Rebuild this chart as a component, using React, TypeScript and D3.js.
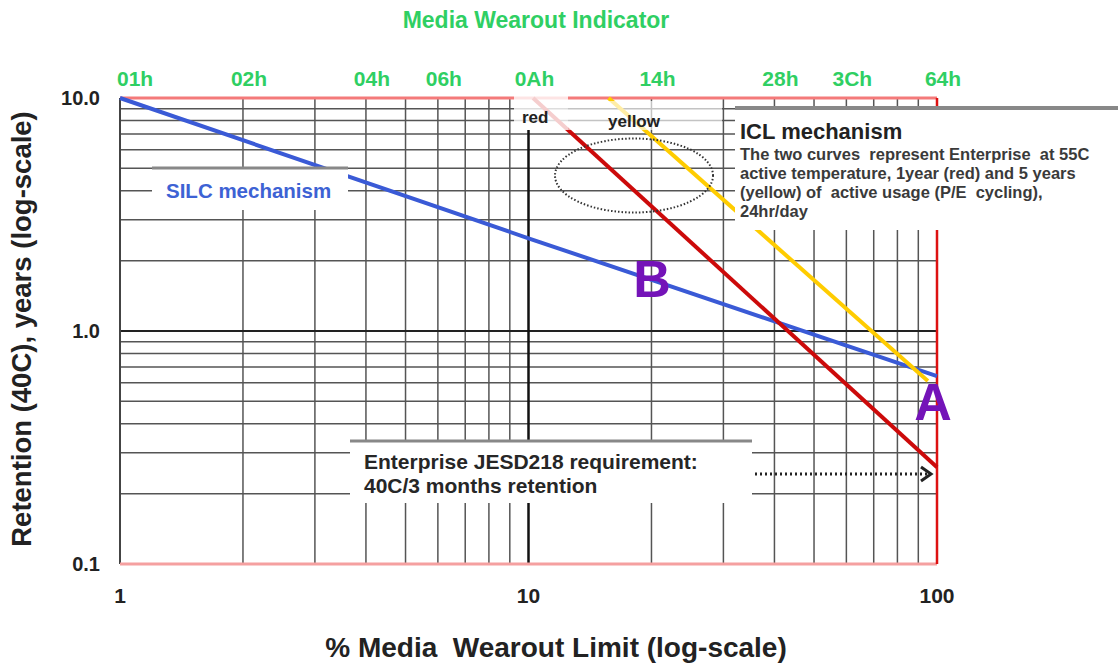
import React from 'react';
import * as d3 from 'd3';

const W = 1118;
const H = 664;
const FONT = "'Liberation Sans', Arial, sans-serif";

const xDomain = [1, 100];
const yDomain = [0.1, 10];

const topTickValues = [1, 2, 4, 6, 10, 20, 40, 60, 100];
const topTickLabels = ['01h', '02h', '04h', '06h', '0Ah', '14h', '28h', '3Ch', '64h'];
const bottomTickValues = [1, 10, 100];
const bottomTickLabels = ['1', '10', '100'];
const leftTickValues = [10, 1, 0.1];
const leftTickLabels = ['10.0', '1.0', '0.1'];

// SILC mechanism (blue)
const silcX = [1, 10, 100];
const silcY = [10, 2.5, 0.64];
// ICL 1 year (red)
const redX = [10.26, 100];
const redY = [10, 0.26];
// ICL 5 years (yellow)
const yellowX = [15.7, 95];
const yellowY = [10, 0.61];

const iclLines = [
  'The two curves  represent Enterprise  at 55C',
  'active temperature, 1year (red) and 5 years',
  '(yellow) of  active usage (P/E  cycling),',
  '24hr/day',
];
const jesdLines = ['Enterprise JESD218 requirement:', '40C/3 months retention'];

export default function App() {
  const x = d3.scaleLog().domain(xDomain).range([120, 937]);
  const y = d3.scaleLog().domain(yDomain).range([564, 98]);
  const [x0, x1] = x.range();
  const [y0, y1] = y.range();

  const xGrid = x.ticks().filter((v) => v !== 1 && v !== 100 && v !== 10);
  const yGrid = y.ticks().filter((v) => v !== 0.1 && v !== 10 && Math.abs(v - 1) > 1e-9);

  const line = d3
    .line<[number, number]>()
    .x((d) => x(d[0]))
    .y((d) => y(d[1]));
  const pts = (xs: number[], ys: number[]) => xs.map((v, i) => [v, ys[i]] as [number, number]);

  const gridColor = '#555';
  const green = '#2fcf63';
  const purple = '#7413b8';

  return (
    <svg
      width={W}
      height={H}
      style={{ position: 'absolute', left: 0, top: 0, background: '#fff' }}
      fontFamily={FONT}
    >
      <rect x={0} y={0} width={W} height={H} fill="#fff" />
      {/* title */}
      <text x={536} y={28} textAnchor="middle" fontSize={23} fontWeight="bold" fill={green}>
        Media Wearout Indicator
      </text>
      {/* top ticks */}
      {topTickValues.map((v, i) => (
        <text
          key={'tt' + i}
          x={i === 0 ? x(v) - 3 : x(v) + 6}
          y={86}
          textAnchor={i === 0 ? 'start' : 'middle'}
          fontSize={21}
          fontWeight="bold"
          fill={green}
        >
          {topTickLabels[i]}
        </text>
      ))}

      {/* grid */}
      {xGrid.map((v) => (
        <line key={'xg' + v} x1={x(v)} x2={x(v)} y1={y1} y2={y0} stroke={gridColor} strokeWidth={1.5} />
      ))}
      {yGrid.map((v) => (
        <line key={'yg' + v} x1={x0} x2={x1} y1={y(v)} y2={y(v)} stroke={gridColor} strokeWidth={1.5} />
      ))}
      {/* major lines */}
      <line x1={x0} x2={x1} y1={y(1)} y2={y(1)} stroke="#222" strokeWidth={2} />
      <line x1={x(10)} x2={x(10)} y1={130} y2={y0} stroke="#111" strokeWidth={2.5} />
      {/* borders */}
      <line x1={x0} x2={x0} y1={y1} y2={y0} stroke="#444" strokeWidth={2} />
      <line x1={x0} x2={x1} y1={y0} y2={y0} stroke="#f5a0a0" strokeWidth={3} />
      <line x1={x0} x2={x1} y1={y1} y2={y1} stroke="#f47a7a" strokeWidth={3} />
      <line x1={x1} x2={x1} y1={y1} y2={y0} stroke="#dd1111" strokeWidth={2.5} />

      {/* curves */}
      <path d={line(pts(silcX, silcY)) || ''} fill="none" stroke="#3a5ad6" strokeWidth={4} />
      <path d={line(pts(redX, redY)) || ''} fill="none" stroke="#cc0a0a" strokeWidth={4} />
      <path d={line(pts(yellowX, yellowY)) || ''} fill="none" stroke="#ffcc00" strokeWidth={4} />

      {/* label overlays */}
      <rect x={514} y={95} width={54} height={35} fill="#fff" opacity={0.8} />
      <rect x={568} y={101} width={154} height={29} fill="#fff" opacity={0.65} />
      <text x={522} y={123} fontSize={17} fontWeight="bold" fill="#222">
        red
      </text>
      <text x={608} y={127} fontSize={17} fontWeight="bold" fill="#222">
        yellow
      </text>

      {/* dotted ellipse */}
      <ellipse cx={634} cy={175.5} rx={79} ry={37} fill="none" stroke="#333" strokeWidth={2} strokeDasharray="1.5 2" />

      {/* SILC box */}
      <rect x={152} y={168} width={196} height={42} fill="#fff" />
      <line x1={152} x2={348} y1={168} y2={168} stroke="#888" strokeWidth={3} />
      <text x={166} y={198} fontSize={20.5} fontWeight="bold" fill="#3d62d4">
        SILC mechanism
      </text>

      {/* ICL box */}
      <rect x={735} y={108} width={W - 735} height={122} fill="#fff" />
      <line x1={735} x2={W} y1={108} y2={108} stroke="#888" strokeWidth={4} />
      <text x={740} y={139} fontSize={22} fontWeight="bold" fill="#222">
        ICL mechanism
      </text>
      {iclLines.map((t, i) => (
        <text key={'icl' + i} x={740} y={160 + i * 19} fontSize={16.5} fontWeight="bold" fill="#3a3a3a" style={{ whiteSpace: 'pre' }}>
          {t}
        </text>
      ))}

      {/* JESD box */}
      <rect x={350} y={441} width={402} height={62} fill="#fff" />
      <line x1={350} x2={752} y1={441} y2={441} stroke="#888" strokeWidth={3} />
      {jesdLines.map((t, i) => (
        <text key={'j' + i} x={364} y={469 + i * 24} fontSize={21} fontWeight="bold" fill="#262626">
          {t}
        </text>
      ))}
      {/* dotted arrow */}
      <line x1={755} x2={928} y1={474} y2={474} stroke="#222" strokeWidth={3} strokeDasharray="2 3" />
      <polyline points="921,467 931,474 921,481" fill="none" stroke="#222" strokeWidth={3} />

      {/* A / B */}
      <text x={652} y={297} textAnchor="middle" fontSize={52} fontWeight="bold" fill={purple}>
        B
      </text>
      <text x={933} y={420} textAnchor="middle" fontSize={52} fontWeight="bold" fill={purple}>
        A
      </text>

      {/* left ticks */}
      {leftTickValues.map((v, i) => (
        <text key={'lt' + i} x={100} y={y(v) + 7} textAnchor="end" fontSize={20} fontWeight="bold" fill="#222">
          {leftTickLabels[i]}
        </text>
      ))}
      {/* bottom ticks */}
      {bottomTickValues.map((v, i) => (
        <text key={'bt' + i} x={x(v)} y={603} textAnchor="middle" fontSize={21} fontWeight="bold" fill="#222">
          {bottomTickLabels[i]}
        </text>
      ))}

      {/* axis titles */}
      <text
        transform={`translate(31, ${329}) rotate(-90)`}
        textAnchor="middle"
        fontSize={27.5}
        fontWeight="bold"
        fill="#222"
      >
        Retention (40C), years (log-scale)
      </text>
      <text x={556} y={657} textAnchor="middle" fontSize={28} fontWeight="bold" fill="#222" style={{ whiteSpace: 'pre' }}>
        % Media  Wearout Limit (log-scale)
      </text>
    </svg>
  );
}
